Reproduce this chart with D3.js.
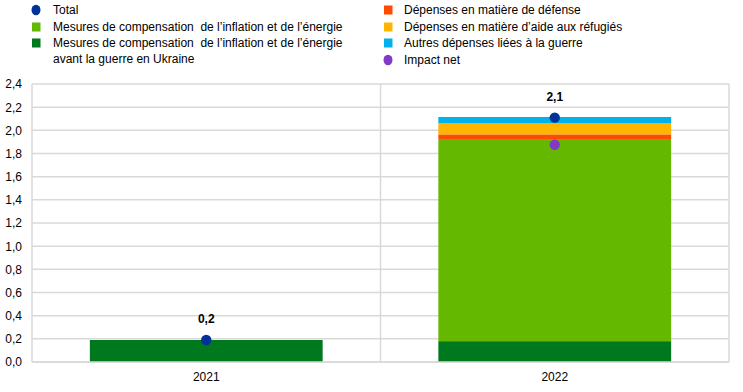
<!DOCTYPE html>
<html><head><meta charset="utf-8">
<script src="https://cdn.jsdelivr.net/npm/d3@7"></script>
<style>body{margin:0;background:#fff;} svg{display:block;font-family:"Liberation Sans",Arial,sans-serif;}</style>
</head><body>
<script>
const categories = ["2021", "2022"];
const preWarMeasures = [0.19, 0.18];
const compensationMeasures = [0, 1.745];
const defenseSpending = [0, 0.04];
const refugeeSpending = [0, 0.095];
const otherWarSpending = [0, 0.055];
const totalValues = [0.19, 2.11];
const totalLabels = ["0,2", "2,1"];
const netImpact = [null, 1.875];
const yTicks = [0, 0.2, 0.4, 0.6, 0.8, 1.0, 1.2, 1.4, 1.6, 1.8, 2.0, 2.2, 2.4];

const seriesNames = ["pre", "comp", "def", "ref", "oth"];
const seriesData = [preWarMeasures, compensationMeasures, defenseSpending, refugeeSpending, otherWarSpending];
const colors = {pre:"#00781E", comp:"#65B800", def:"#FF4B00", ref:"#FFB400", oth:"#00B1EA", total:"#003299", net:"#8139C6"};

const W = 743, H = 392;
const m = {left:32, right:14, top:84, bottom:30};
const svg = d3.select("body").append("svg").attr("width", W).attr("height", H);

const x = d3.scaleBand().domain(categories).range([m.left, W - m.right]).paddingInner(0).paddingOuter(0);
const y = d3.scaleLinear().domain([0, 2.4]).range([H - m.bottom, m.top]);
const barW = x.bandwidth() * 0.668;

// gridlines
const grid = svg.append("g");
grid.selectAll("line.h").data(yTicks).join("line")
  .attr("x1", m.left).attr("x2", W - m.right)
  .attr("y1", d => y(d)).attr("y2", d => y(d))
  .attr("stroke", "#d9d9d9").attr("stroke-width", 1.5);
// vertical separators
const vx = [m.left, x("2022"), W - m.right];
grid.selectAll("line.v").data(vx).join("line")
  .attr("x1", d => d).attr("x2", d => d)
  .attr("y1", y(2.4)).attr("y2", y(0))
  .attr("stroke", "#d9d9d9").attr("stroke-width", 1.5);

// stacked bars
const rows = categories.map((c, i) => {
  const r = {cat: c};
  seriesNames.forEach((s, k) => r[s] = seriesData[k][i]);
  return r;
});
const stack = d3.stack().keys(seriesNames)(rows);
svg.append("g").selectAll("g").data(stack).join("g")
  .attr("fill", d => colors[d.key])
  .selectAll("rect").data(d => d).join("rect")
  .attr("x", d => x(d.data.cat) + (x.bandwidth() - barW) / 2)
  .attr("width", barW)
  .attr("y", d => y(d[1]))
  .attr("height", d => Math.max(0, y(d[0]) - y(d[1])));

// bottom axis line
svg.append("line").attr("x1", m.left).attr("x2", W - m.right)
  .attr("y1", y(0)).attr("y2", y(0)).attr("stroke", "#d9d9d9").attr("stroke-width", 1.5);

// y axis
const yAxis = d3.axisLeft(y).tickValues(yTicks).tickSize(0).tickPadding(10)
  .tickFormat(d => d3.format(".1f")(d).replace(".", ","));
const ya = svg.append("g").attr("transform", `translate(${m.left},0)`).call(yAxis);
ya.select(".domain").remove();
ya.selectAll("text").attr("font-size", 12).attr("fill", "#000").attr("font-family", "Liberation Sans, Arial, sans-serif");

// x axis
const xAxis = d3.axisBottom(x).tickSize(0).tickPadding(10);
const xa = svg.append("g").attr("transform", `translate(0,${y(0)})`).call(xAxis);
xa.select(".domain").remove();
xa.selectAll("text").attr("font-size", 12).attr("fill", "#000").attr("font-family", "Liberation Sans, Arial, sans-serif");

// total dots
svg.append("g").selectAll("circle").data(totalValues).join("circle")
  .attr("cx", (d, i) => x(categories[i]) + x.bandwidth() / 2)
  .attr("cy", d => y(d)).attr("r", 5.2).attr("fill", colors.total);
// net impact dots
svg.append("g").selectAll("circle").data(netImpact.map((v, i) => ({v, i})).filter(d => d.v != null)).join("circle")
  .attr("cx", d => x(categories[d.i]) + x.bandwidth() / 2)
  .attr("cy", d => y(d.v)).attr("r", 5.2).attr("fill", colors.net);
// total labels
svg.append("g").selectAll("text").data(totalValues).join("text")
  .attr("x", (d, i) => x(categories[i]) + x.bandwidth() / 2)
  .attr("y", d => y(d) - 17)
  .attr("text-anchor", "middle").attr("font-size", 12).attr("font-weight", "bold")
  .text((d, i) => totalLabels[i]);

// legend
const legendItems = [
  {col:0, row:0, type:"circle", color:colors.total, lines:["Total"]},
  {col:0, row:1, type:"rect", color:colors.comp, lines:["Mesures de compensation  de l\u2019inflation et de l\u2019énergie"]},
  {col:0, row:2, type:"rect", color:colors.pre, lines:["Mesures de compensation  de l\u2019inflation et de l\u2019énergie", "avant la guerre en Ukraine"]},
  {col:1, row:0, type:"rect", color:colors.def, lines:["Dépenses en matière de défense"]},
  {col:1, row:1, type:"rect", color:colors.ref, lines:["Dépenses en matière d\u2019aide aux réfugiés"]},
  {col:1, row:2, type:"rect", color:colors.oth, lines:["Autres dépenses liées à la guerre"]},
  {col:1, row:3, type:"circle", color:colors.net, lines:["Impact net"]}
];
const colMarkerX = [36, 388], colTextX = [53, 404];
const rowY = [10, 27, 43, 60];
const lg = svg.append("g");
legendItems.forEach(it => {
  const cy = rowY[it.row];
  if (it.type === "circle") {
    lg.append("ellipse").attr("cx", colMarkerX[it.col]).attr("cy", cy).attr("rx", 4.5).attr("ry", 5.3).attr("fill", it.color);
  } else {
    lg.append("rect").attr("x", colMarkerX[it.col] - 4).attr("y", cy - 4.5).attr("width", 8.5).attr("height", 9).attr("fill", it.color);
  }
  it.lines.forEach((t, k) => {
    lg.append("text").attr("x", colTextX[it.col]).attr("y", cy + k * 16).attr("dy", "0.35em")
      .attr("font-size", 12).attr("fill", "#000").attr("xml:space", "preserve").style("white-space", "pre").text(t);
  });
});
</script>
</body></html>
